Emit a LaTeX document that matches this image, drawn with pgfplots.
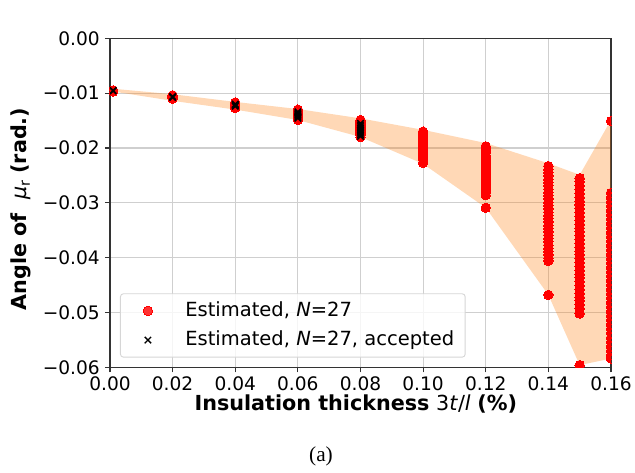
\documentclass[border=0pt]{standalone}
\usepackage{fontspec}
\setmainfont{DejaVu Sans}
\newfontfamily\capfont{Liberation Serif}
\usepackage{pgfplots}
\pgfplotsset{compat=1.18}
\usepackage{pgfplotstable}
\usepgfplotslibrary{fillbetween}

\definecolor{bandorange}{HTML}{FF7F0E}
\definecolor{gridgray}{HTML}{CFCFCF}
\definecolor{legendedge}{HTML}{D6D6D6}

% estimated angles for every sample at each thickness
\pgfplotstableread{
x y
0.001 -0.0095
0.001 -0.0096
0.001 -0.0097
0.02 -0.0104
0.02 -0.0106
0.02 -0.0107
0.02 -0.0108
0.02 -0.0110
0.04 -0.0117
0.04 -0.0119
0.04 -0.0121
0.04 -0.0122
0.04 -0.0123
0.04 -0.0125
0.04 -0.0127
0.06 -0.0130
0.06 -0.0132
0.06 -0.0134
0.06 -0.0136
0.06 -0.0138
0.06 -0.0140
0.06 -0.0142
0.06 -0.0144
0.06 -0.0146
0.06 -0.0149
0.08 -0.0149
0.08 -0.0152
0.08 -0.0155
0.08 -0.0158
0.08 -0.0161
0.08 -0.0164
0.08 -0.0167
0.08 -0.0170
0.08 -0.0173
0.08 -0.0176
0.08 -0.0180
0.10 -0.0170
0.10 -0.0173
0.10 -0.0176
0.10 -0.0179
0.10 -0.0182
0.10 -0.0185
0.10 -0.0188
0.10 -0.0191
0.10 -0.0194
0.10 -0.0197
0.10 -0.0200
0.10 -0.0204
0.10 -0.0208
0.10 -0.0212
0.10 -0.0216
0.10 -0.0220
0.10 -0.0227
0.12 -0.0197
0.12 -0.0201
0.12 -0.0205
0.12 -0.0209
0.12 -0.0213
0.12 -0.0217
0.12 -0.0221
0.12 -0.0225
0.12 -0.0229
0.12 -0.0233
0.12 -0.0237
0.12 -0.0241
0.12 -0.0245
0.12 -0.0249
0.12 -0.0253
0.12 -0.0257
0.12 -0.0261
0.12 -0.0265
0.12 -0.0269
0.12 -0.0273
0.12 -0.0277
0.12 -0.0281
0.12 -0.0286
0.12 -0.0309
0.14 -0.0233
0.14 -0.0239
0.14 -0.0245
0.14 -0.0251
0.14 -0.0257
0.14 -0.0263
0.14 -0.0269
0.14 -0.0275
0.14 -0.0281
0.14 -0.0287
0.14 -0.0293
0.14 -0.0299
0.14 -0.0305
0.14 -0.0311
0.14 -0.0317
0.14 -0.0323
0.14 -0.0329
0.14 -0.0335
0.14 -0.0341
0.14 -0.0347
0.14 -0.0353
0.14 -0.0359
0.14 -0.0365
0.14 -0.0371
0.14 -0.0377
0.14 -0.0383
0.14 -0.0389
0.14 -0.0395
0.14 -0.0401
0.14 -0.0406
0.14 -0.0468
0.15 -0.0255
0.15 -0.0262
0.15 -0.0269
0.15 -0.0276
0.15 -0.0283
0.15 -0.0290
0.15 -0.0297
0.15 -0.0304
0.15 -0.0311
0.15 -0.0318
0.15 -0.0325
0.15 -0.0332
0.15 -0.0339
0.15 -0.0346
0.15 -0.0353
0.15 -0.0360
0.15 -0.0367
0.15 -0.0374
0.15 -0.0381
0.15 -0.0388
0.15 -0.0395
0.15 -0.0402
0.15 -0.0409
0.15 -0.0416
0.15 -0.0423
0.15 -0.0430
0.15 -0.0437
0.15 -0.0444
0.15 -0.0451
0.15 -0.0458
0.15 -0.0465
0.15 -0.0472
0.15 -0.0479
0.15 -0.0486
0.15 -0.0493
0.15 -0.0502
0.15 -0.0596
0.16 -0.0151
0.16 -0.0282
0.16 -0.0290
0.16 -0.0298
0.16 -0.0306
0.16 -0.0314
0.16 -0.0322
0.16 -0.0330
0.16 -0.0338
0.16 -0.0346
0.16 -0.0354
0.16 -0.0362
0.16 -0.0370
0.16 -0.0378
0.16 -0.0386
0.16 -0.0394
0.16 -0.0402
0.16 -0.0410
0.16 -0.0418
0.16 -0.0426
0.16 -0.0434
0.16 -0.0442
0.16 -0.0450
0.16 -0.0458
0.16 -0.0466
0.16 -0.0474
0.16 -0.0482
0.16 -0.0490
0.16 -0.0498
0.16 -0.0506
0.16 -0.0514
0.16 -0.0522
0.16 -0.0530
0.16 -0.0538
0.16 -0.0546
0.16 -0.0554
0.16 -0.0562
0.16 -0.0570
0.16 -0.0578
0.16 -0.0584
}\estimated

% estimates that passed the acceptance check
\pgfplotstableread{
x y
0.001 -0.0095
0.001 -0.0096
0.02 -0.0106
0.02 -0.0107
0.02 -0.0108
0.04 -0.0120
0.04 -0.0121
0.04 -0.0122
0.04 -0.0123
0.04 -0.0124
0.06 -0.0134
0.06 -0.0136
0.06 -0.0138
0.06 -0.0140
0.06 -0.0142
0.06 -0.0144
0.06 -0.0146
0.08 -0.0155
0.08 -0.0158
0.08 -0.0161
0.08 -0.0164
0.08 -0.0167
0.08 -0.0170
0.08 -0.0173
0.08 -0.0176
0.08 -0.0179
}\accepted

% spread of the estimates (upper and lower envelope)
\pgfplotstableread{
x up lo
0.001 -0.0092 -0.0097
0.02 -0.0102 -0.0114
0.04 -0.0116 -0.0130
0.06 -0.0129 -0.0149
0.08 -0.0146 -0.0180
0.10 -0.0167 -0.0229
0.12 -0.0191 -0.0309
0.14 -0.0228 -0.0468
0.15 -0.0249 -0.0596
0.16 -0.0149 -0.0584
}\band

\newcommand\ticksize{\fontsize{18.6}{22}\selectfont}
\newcommand\labelsize{\fontsize{20.7}{24}\selectfont}
\newcommand\legendsize{\fontsize{19.5}{23}\selectfont}

\begin{document}
\begin{tikzpicture}
\begin{axis}[
  width=501pt, height=329pt, scale only axis,
  at={(0pt,0pt)}, anchor=south west,
  xmin=0, xmax=0.16, ymin=-0.06, ymax=0,
  xtick={0,0.02,0.04,0.06,0.08,0.10,0.12,0.14,0.16},
  xticklabels={0.00,0.02,0.04,0.06,0.08,0.10,0.12,0.14,0.16},
  ytick={-0.06,-0.05,-0.04,-0.03,-0.02,-0.01,0},
  yticklabels={−0.06,−0.05,−0.04,−0.03,−0.02,−0.01,0.00},
  scaled ticks=false,
  tick align=outside, tick pos=left, major tick length=5pt,
  grid=major,
  major grid style={gridgray, line width=1.1pt},
  axis line style={black!80, line width=1.2pt},
  every tick/.style={black!80, line width=1.1pt},
  tick label style={font=\ticksize},
  xticklabel style={inner sep=0pt, anchor=north, yshift=-4.5pt},
  yticklabel style={inner sep=0pt, anchor=east, xshift=-5pt},
  clip marker paths=true,
  xlabel={\textbf{Insulation thickness} 3\textit{t}/\textit{l} \textbf{(\%)}},
  xlabel style={font=\labelsize, at={(axis description cs:0.4906,-0.1116)}, anchor=center, inner sep=0pt},
  ylabel={\textbf{Angle of}\ \ \textit{μ}\textsubscript{r} \textbf{(rad.)}},
  ylabel style={font=\labelsize, at={(axis description cs:-0.1776,0.4812)}, anchor=center, inner sep=0pt},
  legend style={
    at={(axis description cs:0.01996,0.2249)}, anchor=north west,
    draw=legendedge, line width=0.9pt, rounded corners=3pt,
    fill=white, fill opacity=0.8, text opacity=1,
    font=\legendsize,
    inner xsep=11pt, inner ysep=8.4pt,
    row sep=12pt,
    nodes={inner sep=0pt, text height=14pt, text depth=3.3pt},
  },
  legend cell align=left,
  % marker centred 16pt into the entry, text starting 53pt in
  legend image code/.code={%
    \draw[mark repeat=2,mark phase=2,#1] plot coordinates {(0pt,0pt) (16pt,0pt) (32pt,0pt)};
    \path (0pt,0pt) (53pt,0pt);},
]
\addplot[name path=up, draw=none, forget plot] table[x=x, y=up] {\band};
\addplot[name path=lo, draw=none, forget plot] table[x=x, y=lo] {\band};
\addplot[fill=bandorange, fill opacity=0.3, draw=none, forget plot] fill between[of=up and lo];

\addplot[red, only marks, mark=*, mark size=4.7pt, mark options={fill=red, draw=red, line width=0pt}] table[x=x, y=y] {\estimated};
\addlegendentry{Estimated, \textit{N}=27}
\addplot[black, only marks, mark=x, mark size=4.5pt, mark options={draw=black, line width=1.4pt}] table[x=x, y=y] {\accepted};
\addlegendentry{Estimated, \textit{N}=27, accepted}
\end{axis}
\node[font=\capfont\fontsize{21.3}{24}\selectfont, inner sep=0pt] at (211pt,-88.7pt) {(a)};
\pgfresetboundingbox
\path[use as bounding box] (-110pt,-104.7pt) rectangle (525pt,367.3pt);
\end{tikzpicture}
\end{document}
